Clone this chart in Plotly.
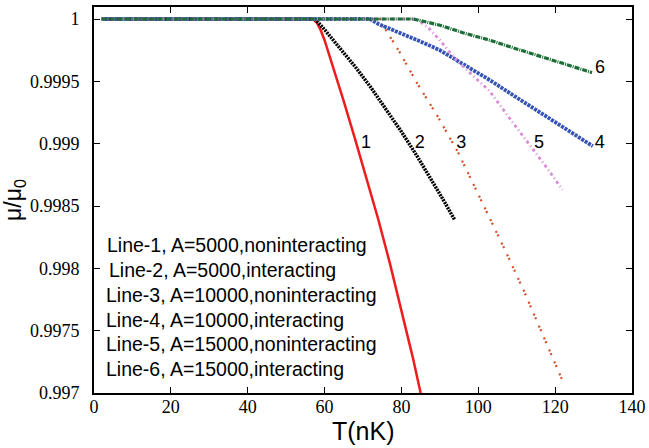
import plotly.graph_objects as go

# ---- data ----
T1 = [2, 57, 58, 59, 60, 62, 65, 68, 71, 74, 77, 80, 83, 85]
M1 = [1, 1, 0.99997, 0.99991, 0.99983, 0.99964, 0.99934, 0.99903, 0.99872, 0.99839, 0.99804, 0.99767, 0.99728, 0.997]

T2 = [2, 57.5, 60, 64, 68, 72, 76, 80, 84, 88, 91, 93.9]
M2 = [1, 1, 0.999915, 0.99977, 0.999616, 0.999453, 0.999279, 0.999096, 0.998904, 0.998702, 0.998544, 0.998386]

T3 = [2, 74.4, 76, 79.6, 84, 89.6, 94.75, 100, 107.3, 112, 116.4, 121.9]
M3 = [1, 1, 0.99991, 0.99973, 0.99949, 0.99921, 0.99893, 0.998595, 0.998125, 0.99781, 0.9975, 0.9971]

T4 = [2, 71.8, 74, 78, 85.7, 90, 96, 103, 110, 117, 123, 129.8]
M4 = [1, 1, 0.99996, 0.99991, 0.99981, 0.99975, 0.99964, 0.99951, 0.99937, 0.99923, 0.99911, 0.99898]

T5 = [2, 84, 87, 90, 94.3, 103, 108, 114.7, 118, 121.9]
M5 = [1, 1, 0.99993, 0.99983, 0.99967, 0.99942, 0.99921, 0.99894, 0.9988, 0.99863]

T6 = [2, 83, 86, 90, 96, 103, 110, 117, 123, 129.6]
M6 = [1, 1, 0.99998, 0.99995, 0.99989, 0.99983, 0.99976, 0.99969, 0.99963, 0.99957]

line_numbers = ["1", "2", "3", "4", "5", "6"]
number_x = [70.8, 84.8, 95.6, 131.6, 115.8, 131.7]
number_y = [0.999, 0.999, 0.999, 0.999, 0.999, 0.9996]

legend_texts = [
    "Line-1, A=5000,noninteracting",
    "Line-2, A=5000,interacting",
    "Line-3, A=10000,noninteracting",
    "Line-4, A=10000,interacting",
    "Line-5, A=15000,noninteracting",
    "Line-6, A=15000,interacting",
]

x_ticks = [0, 20, 40, 60, 80, 100, 120, 140]
y_ticks = [0.997, 0.9975, 0.998, 0.9985, 0.999, 0.9995, 1]
y_ticktext = ["0.997", "0.9975", "0.998", "0.9985", "0.999", "0.9995", "1"]

x_title = "T(nK)"
y_title = "μ/μ<sub>0</sub>"

# ---- styles ----
series = [
    (T1, M1, "#ee1c1c", 2.5, "solid"),
    (T2, M2, "#000000", 3.5, "2px,1px"),
    (T3, M3, "#d4502a", 2.2, "2px,2px,2px,7px"),
    (T4, M4, "#3553b5", 3.8, "3px,1px"),
    (T5, M5, "#d88cd8", 2.8, "3px,3px,1px,3px"),
    (T6, M6, "#1b6e37", 3.2, "5px,1px,1px,1px"),
]

fig = go.Figure()
for T, M, c, w, d in series:
    fig.add_trace(go.Scatter(x=T, y=M, mode="lines",
                             line=dict(color=c, width=w, dash=d),
                             showlegend=False, hoverinfo="skip"))

# line number labels
fig.add_trace(go.Scatter(x=number_x, y=number_y, mode="text", text=line_numbers,
                         textfont=dict(family="Liberation Sans, Arial", size=18, color="black"),
                         showlegend=False, hoverinfo="skip"))

W, H = 649, 448
ml, mr, mt, mb = 94, 17, 7, 55
pw, ph = W - ml - mr, H - mt - mb

legend_px_x = [105, 106.5, 103.5, 103.5, 103.5, 103.5]
legend_px_y = [245, 270, 295, 320, 344, 369]
for t, px, py in zip(legend_texts, legend_px_x, legend_px_y):
    fig.add_annotation(x=(px - ml) / pw, y=(H - mb - py) / ph, xref="paper", yref="paper",
                       text=t, showarrow=False, xanchor="left", yanchor="middle",
                       font=dict(family="Liberation Sans, Arial", size=19.5, color="black"))

# x axis title placed as annotation
fig.add_annotation(x=0.5, y=(H - mb - 431) / ph, xref="paper", yref="paper",
                   text=x_title, showarrow=False, xanchor="center", yanchor="middle",
                   font=dict(family="Liberation Sans, Arial", size=25, color="black"))

axis_common = dict(showline=True, linecolor="black", linewidth=1.6, mirror="ticks",
                   ticks="inside", ticklen=6, tickwidth=1.2, tickcolor="black",
                   showgrid=False, zeroline=False,
                   tickfont=dict(family="Liberation Serif, serif", size=18, color="black"))

fig.update_xaxes(range=[0, 140], tickvals=x_ticks, ticklabelstandoff=-3, **axis_common)
fig.update_yaxes(range=[0.997, 1.0000963], tickvals=y_ticks, ticktext=y_ticktext,
                 title=dict(text=y_title, font=dict(family="Liberation Sans, Arial", size=23, color="black"),
                            standoff=4),
                 ticklabelstandoff=9, **axis_common)

fig.update_layout(width=W, height=H, margin=dict(l=ml, r=mr, t=mt, b=mb, autoexpand=False),
                  paper_bgcolor="white", plot_bgcolor="white")

fig.write_html("out.html")
